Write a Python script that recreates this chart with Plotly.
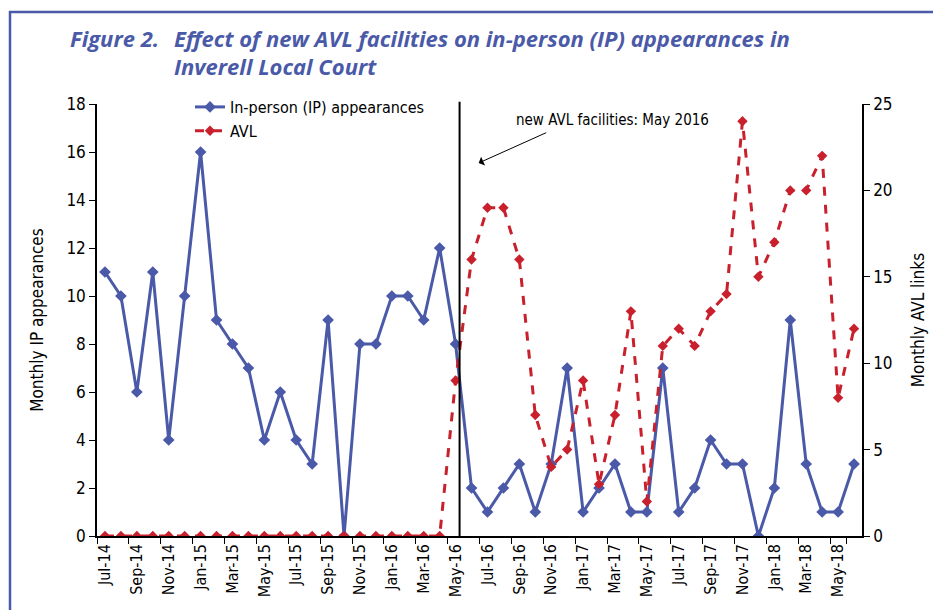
import plotly.graph_objects as go

months = ["Jul-14","Aug-14","Sep-14","Oct-14","Nov-14","Dec-14",
          "Jan-15","Feb-15","Mar-15","Apr-15","May-15","Jun-15",
          "Jul-15","Aug-15","Sep-15","Oct-15","Nov-15","Dec-15",
          "Jan-16","Feb-16","Mar-16","Apr-16","May-16","Jun-16",
          "Jul-16","Aug-16","Sep-16","Oct-16","Nov-16","Dec-16",
          "Jan-17","Feb-17","Mar-17","Apr-17","May-17","Jun-17",
          "Jul-17","Aug-17","Sep-17","Oct-17","Nov-17","Dec-17",
          "Jan-18","Feb-18","Mar-18","Apr-18","May-18","Jun-18"]

ip_appearances = [11, 10, 6, 11, 4, 10,
                  16, 9, 8, 7, 4, 6,
                  4, 3, 9, 0, 8, 8,
                  10, 10, 9, 12, 8, 2,
                  1, 2, 3, 1, 3, 7,
                  1, 2, 3, 1, 1, 7,
                  1, 2, 4, 3, 3, 0,
                  2, 9, 3, 1, 1, 3]

avl_links = [0, 0, 0, 0, 0, 0,
             0, 0, 0, 0, 0, 0,
             0, 0, 0, 0, 0, 0,
             0, 0, 0, 0, 9, 16,
             19, 19, 16, 7, 4, 5,
             9, 3, 7, 13, 2, 11,
             12, 11, 13, 14, 24, 15,
             17, 20, 20, 22, 8, 12]

tick_labels = months[::2]

BLUE = "#4a5aa8"
RED = "#c8202c"
FONT = "Liberation Sans Narrow, DejaVu Sans Condensed, Arial Narrow, sans-serif"

# the page body adds an 8px offset; layout is given in target-screen pixels
OFF = 8
W, H = 941, 610
PW, PH = 765, 432
L, T = 97 - OFF, 104 - OFF
R, B = W - L - PW, H - T - PH

def px(x):
    return (x - OFF - L) / PW

def py(y):
    return (T + PH - (y - OFF)) / PH

fig = go.Figure()
fig.add_trace(go.Scatter(
    x=months, y=ip_appearances, name="In-person (IP) appearances",
    mode="lines+markers",
    line=dict(color=BLUE, width=3),
    marker=dict(symbol="diamond", size=9, color=BLUE),
))
fig.add_trace(go.Scatter(
    x=months, y=avl_links, name="AVL", yaxis="y2",
    mode="lines+markers",
    line=dict(color=RED, width=3, dash="dash"),
    marker=dict(symbol="diamond", size=8, color=RED),
))

fig.update_layout(
    width=W, height=H,
    margin=dict(l=L, r=R, t=T, b=B),
    paper_bgcolor="white", plot_bgcolor="white",
    font=dict(family=FONT, size=16, color="#1a1a1a"),
    showlegend=True,
    legend=dict(x=px(190), y=py(90), xanchor="left", yanchor="top",
                bgcolor="rgba(0,0,0,0)", font=dict(size=16, family=FONT, color="black"),
                tracegroupgap=2),
    xaxis=dict(
        type="category", categoryorder="array", categoryarray=months,
        range=[-0.5, 47.5], automargin=False,
        tickmode="array", tickvals=tick_labels, ticktext=tick_labels,
        tickson="boundaries", ticks="outside", ticklen=6, tickcolor="black",
        tickangle=-90, tickfont=dict(size=16, family=FONT, color="black"),
        showline=True, linecolor="black", linewidth=1.5,
        showgrid=False, zeroline=False,
    ),
    yaxis=dict(
        range=[0, 18], dtick=2, tick0=0, automargin=False,
        ticks="outside", ticklen=6, tickcolor="black",
        tickfont=dict(size=17, family=FONT, color="black"),
        showline=True, linecolor="black", linewidth=1.5,
        showgrid=False, zeroline=False,
        title=dict(text="Monthly IP appearances", standoff=18,
                   font=dict(size=17, family=FONT, color="black")),
    ),
    yaxis2=dict(
        range=[0, 25], dtick=5, tick0=0, overlaying="y", side="right",
        automargin=False,
        ticks="outside", ticklen=6, tickcolor="black",
        tickfont=dict(size=17, family=FONT, color="black"),
        showline=True, linecolor="black", linewidth=1.5,
        showgrid=False, zeroline=False,
        title=dict(text="Monthly AVL links", standoff=20,
                   font=dict(size=17, family=FONT, color="black")),
    ),
)

# vertical marker line for new AVL facilities (just after May-16)
fig.add_shape(type="line", xref="x", yref="paper",
              x0=22.25, x1=22.25, y0=0, y1=1.005,
              line=dict(color="black", width=2))

# outer frame
fig.add_shape(type="rect", xref="paper", yref="paper",
              x0=px(10), x1=px(935), y0=py(650), y1=py(12),
              line=dict(color=BLUE, width=2.5), fillcolor="rgba(0,0,0,0)",
              layer="below")

# titles
TITLE_FONT = dict(family="Open Sans, Lato, sans-serif", size=22, color=BLUE,
                  weight="bold", style="italic")
fig.add_annotation(xref="paper", yref="paper", x=px(68), y=py(38),
                   xanchor="left", yanchor="middle", showarrow=False,
                   text="Figure 2.", font=TITLE_FONT)
fig.add_annotation(xref="paper", yref="paper", x=px(172), y=py(38),
                   xanchor="left", yanchor="middle", showarrow=False,
                   text="Effect of new AVL facilities on in-person (IP) appearances in",
                   font=TITLE_FONT)
fig.add_annotation(xref="paper", yref="paper", x=px(172), y=py(66),
                   xanchor="left", yanchor="middle", showarrow=False,
                   text="Inverell Local Court", font=TITLE_FONT)

# callout
fig.add_annotation(xref="paper", yref="paper", x=px(514), y=py(120),
                   xanchor="left", yanchor="middle", showarrow=False,
                   text="new AVL facilities: May 2016",
                   font=dict(family=FONT, size=15, color="black"))
fig.add_annotation(xref="x", yref="y", x=23.45, y=(536 - 163) / 24.0,
                   ax=69, ay=-31, axref="pixel", ayref="pixel",
                   text="", showarrow=True, arrowhead=1, arrowsize=1.6,
                   arrowwidth=1, arrowcolor="black")

fig.write_html("out.html")
